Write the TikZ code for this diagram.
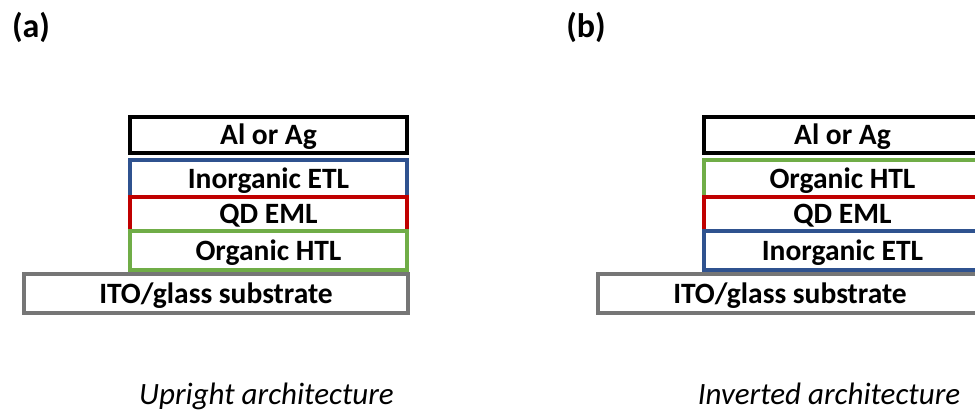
\documentclass[tikz,border=0pt]{standalone}
\usepackage{fontspec}
\setmainfont{Carlito}
\definecolor{etlblue}{RGB}{47,82,143}
\definecolor{emlred}{RGB}{192,0,0}
\definecolor{htlgreen}{RGB}{112,173,71}
\definecolor{itogray}{RGB}{118,118,118}
\tikzset{
  layer/.style={draw, line width=3.2pt, fill=white, inner sep=0pt, minimum width=277pt,
     text height=19pt, text depth=0pt,
     font=\fontsize{29.5}{32}\selectfont\bfseries},
  subs/.style={layer, draw=itogray, minimum width=384pt, minimum height=39pt},
  panel/.style={font=\fontsize{34}{38}\selectfont\bfseries},
  captext/.style={font=\fontsize{31}{34}\selectfont\itshape, text height=19pt, text depth=0pt, inner sep=0pt}
}
\begin{document}
\begin{tikzpicture}[x=1pt,y=-1pt]
\clip (0,0) rectangle (975,413);
\fill[white] (0,0) rectangle (975,413);
% panel (a)
\node[panel] (la) at (31,27) {(a)};
\node[layer, draw=black, minimum height=36pt] (a1) at (268.5,135) {Al or Ag};
\node[layer, draw=etlblue, minimum height=37pt] (a2) at (268.5,178.5) {Inorganic ETL};
\node[layer, draw=emlred, minimum height=34pt] (a3) at (268.5,214) {QD EML};
\node[layer, draw=htlgreen, minimum height=39pt] (a4) at (268.5,250.5) {Organic HTL};
\node[subs] (a5) at (216,293.5) {ITO/glass substrate};
\node[captext] (ca) at (266.5,395) {Upright architecture};
% panel (b)
\node[panel] (lb) at (586,27) {(b)};
\node[layer, draw=black, minimum height=36pt] (b1) at (842.5,135) {Al or Ag};
\node[layer, draw=htlgreen, minimum height=37pt] (b2) at (842.5,178.5) {Organic HTL};
\node[layer, draw=emlred, minimum height=34pt] (b3) at (842.5,214) {QD EML};
\node[layer, draw=etlblue, minimum height=39pt] (b4) at (842.5,250.5) {Inorganic ETL};
\node[subs] (b5) at (790,293.5) {ITO/glass substrate};
\node[captext] (cb) at (829,395) {Inverted architecture};
\end{tikzpicture}
\end{document}
